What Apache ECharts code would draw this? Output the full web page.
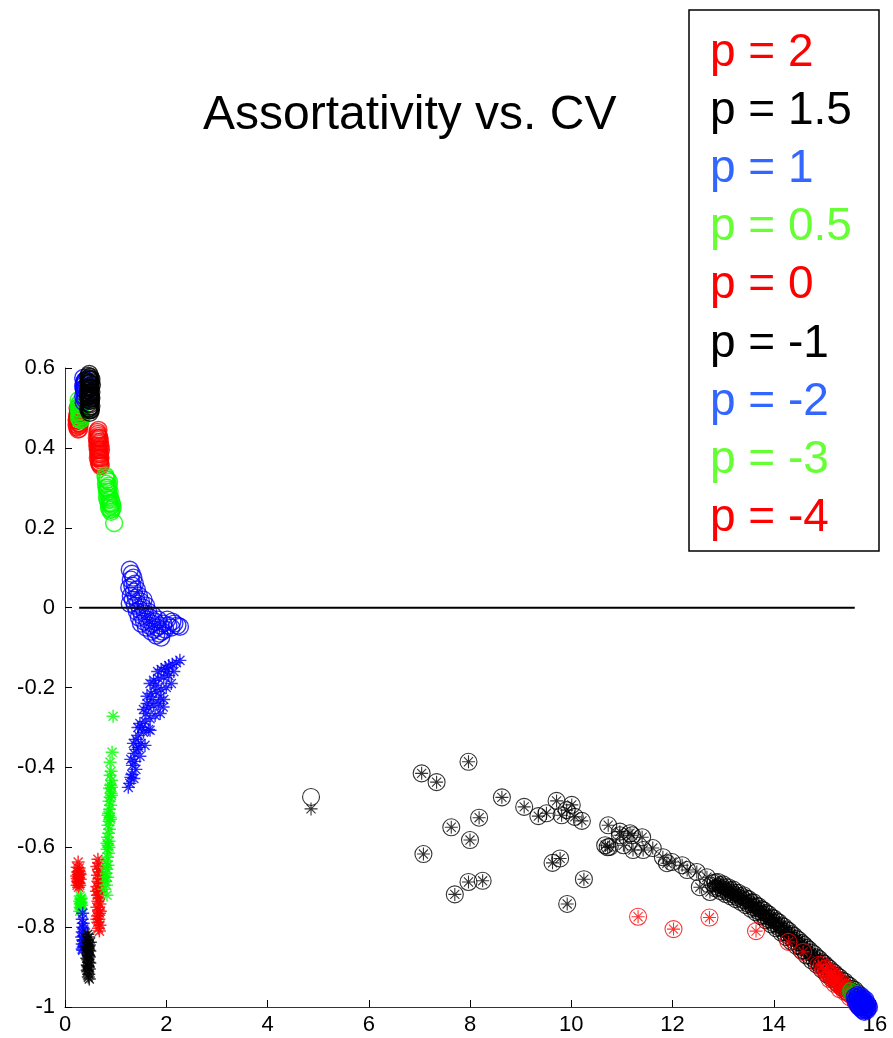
<!DOCTYPE html>
<html>
<head>
<meta charset="utf-8">
<script src="https://cdn.jsdelivr.net/npm/echarts@6/dist/echarts.min.js"></script>
<style>html,body{margin:0;padding:0;background:#fff}#c{width:893px;height:1038px}</style>
</head>
<body>
<div id="c"></div>
<script>
// ---------- data: [CV, assortativity] ----------
// left-hand groups: circles (o) and asterisks (*) read separately
const p2Circ = [
  [0.23,0.470],[0.24,0.452],[0.25,0.485],[0.26,0.462],[0.27,0.495],[0.28,0.448],[0.25,0.500],
  [0.29,0.475],[0.24,0.468],[0.27,0.455],[0.30,0.482],[0.26,0.446],[0.28,0.490],[0.23,0.458],
  [0.25,0.475],[0.27,0.468],[0.29,0.458],[0.26,0.490],[0.24,0.480],[0.28,0.462]
];
const p2Star = [
  [0.26,-0.637],[0.24,-0.650],[0.28,-0.652],[0.25,-0.662],[0.29,-0.665],[0.23,-0.672],
  [0.27,-0.675],[0.30,-0.680],[0.25,-0.685],[0.28,-0.690],[0.24,-0.695],[0.27,-0.700],
  [0.29,-0.695],[0.26,-0.668],[0.26,-0.688],[0.28,-0.660],[0.24,-0.678],[0.30,-0.668]
];
const p05Circ = [
  [0.27,0.520],[0.28,0.508],[0.29,0.497],[0.30,0.485],[0.28,0.475],[0.31,0.470],[0.29,0.512],
  [0.30,0.492],[0.32,0.480],[0.27,0.500],[0.31,0.505],[0.28,0.490],[0.30,0.472],[0.29,0.482]
];
const p05Star = [
  [0.30,-0.722],[0.32,-0.728],[0.29,-0.735],[0.31,-0.740],[0.33,-0.745],[0.30,-0.750],
  [0.32,-0.755],[0.29,-0.760],[0.31,-0.730],[0.30,-0.742],[0.32,-0.738],[0.31,-0.752]
];
const p1Circ = [
  [0.36,0.575],[0.37,0.560],[0.38,0.545],[0.36,0.530],[0.39,0.568],[0.37,0.515],[0.40,0.552],
  [0.38,0.538],[0.39,0.522],[0.41,0.570],[0.37,0.548],[0.40,0.528],[0.38,0.565],[0.36,0.555]
];
const p1Star = [
  [0.35,-0.765],[0.34,-0.780],[0.36,-0.790],[0.35,-0.800],[0.34,-0.812],[0.36,-0.822],
  [0.35,-0.832],[0.34,-0.842],[0.36,-0.850],[0.35,-0.858],[0.37,-0.805],[0.37,-0.835],
  [0.33,-0.825],[0.34,-0.855]
];
const p15Circ = [
  [0.46,0.580],[0.48,0.572],[0.50,0.578],[0.47,0.562],[0.49,0.555],[0.51,0.565],[0.46,0.545],
  [0.48,0.535],[0.50,0.525],[0.52,0.540],[0.47,0.512],[0.49,0.503],[0.51,0.495],[0.48,0.518],
  [0.50,0.548],[0.52,0.505],[0.45,0.528],[0.53,0.558],[0.47,0.575],[0.49,0.488],[0.51,0.530],
  [0.48,0.552],[0.50,0.510],[0.46,0.498],[0.49,0.570],[0.47,0.550],[0.51,0.550],[0.49,0.540],
  [0.47,0.530],[0.51,0.518],[0.49,0.522],[0.47,0.495],[0.50,0.495],[0.52,0.525],[0.48,0.500],
  [0.46,0.565],[0.50,0.562],[0.52,0.572],[0.48,0.585],[0.49,0.532]
];
const p15Star = [
  [0.45,-0.818],[0.47,-0.825],[0.44,-0.832],[0.46,-0.840],[0.48,-0.845],[0.45,-0.852],
  [0.47,-0.858],[0.44,-0.865],[0.46,-0.870],[0.48,-0.875],[0.45,-0.882],[0.47,-0.888],
  [0.44,-0.895],[0.46,-0.900],[0.48,-0.905],[0.45,-0.912],[0.47,-0.918],[0.46,-0.925],
  [0.48,-0.930],[0.43,-0.848],[0.49,-0.860],[0.43,-0.878],[0.49,-0.890],[0.44,-0.908],
  [0.50,-0.838],[0.46,-0.855],[0.47,-0.872],[0.45,-0.897]
];
const p0Circ = [
  [0.64,0.440],[0.66,0.430],[0.65,0.420],[0.67,0.410],[0.66,0.400],[0.68,0.390],[0.67,0.380],
  [0.69,0.370],[0.68,0.360],[0.70,0.375],[0.65,0.395],[0.69,0.415],[0.63,0.425],[0.71,0.395],
  [0.67,0.365],[0.64,0.405],[0.70,0.355],[0.66,0.445],[0.68,0.425],[0.64,0.415],[0.70,0.405],
  [0.66,0.385],[0.68,0.375],[0.70,0.360],[0.65,0.375],[0.69,0.385],[0.67,0.395],[0.67,0.425],
  [0.65,0.435]
];
const p0Star = [
  [0.65,-0.630],[0.67,-0.640],[0.63,-0.648],[0.66,-0.655],[0.68,-0.662],[0.64,-0.670],
  [0.67,-0.678],[0.65,-0.685],[0.69,-0.690],[0.63,-0.698],[0.66,-0.705],[0.68,-0.712],
  [0.64,-0.720],[0.67,-0.728],[0.65,-0.735],[0.69,-0.742],[0.63,-0.750],[0.66,-0.757],
  [0.68,-0.765],[0.64,-0.772],[0.67,-0.780],[0.65,-0.788],[0.69,-0.795],[0.66,-0.803],
  [0.68,-0.810],[0.70,-0.720],[0.62,-0.710],[0.70,-0.760],[0.63,-0.780]
];
const green2Circ = [
  [0.80,0.330],[0.82,0.320],[0.81,0.310],[0.84,0.300],[0.83,0.290],[0.86,0.280],[0.85,0.270],
  [0.88,0.260],[0.87,0.250],[0.90,0.255],[0.89,0.275],[0.86,0.305],[0.91,0.240],[0.97,0.212],
  [0.94,0.250],[0.92,0.262],[0.84,0.320],[0.82,0.300],[0.88,0.290],[0.90,0.270],[0.86,0.262],
  [0.92,0.245],[0.83,0.275],[0.85,0.295],[0.87,0.315],[0.89,0.245],[0.81,0.325],[0.93,0.258]
];
const green2Star = [
  [0.95,-0.272],[0.93,-0.362],[0.89,-0.387],[0.91,-0.410],[0.89,-0.420],[0.92,-0.432],
  [0.90,-0.445],[0.88,-0.452],[0.91,-0.465],[0.89,-0.475],[0.87,-0.485],[0.90,-0.495],
  [0.88,-0.505],[0.86,-0.515],[0.89,-0.525],[0.87,-0.535],[0.85,-0.545],[0.88,-0.555],
  [0.86,-0.565],[0.84,-0.575],[0.87,-0.585],[0.85,-0.595],[0.83,-0.605],[0.86,-0.615],
  [0.84,-0.625],[0.82,-0.635],[0.85,-0.645],[0.83,-0.655],[0.81,-0.665],[0.84,-0.675],
  [0.80,-0.685],[0.82,-0.695],[0.77,-0.705],[0.83,-0.720],[0.92,-0.470],[0.90,-0.530],
  [0.85,-0.520],[0.83,-0.590],[0.80,-0.650],[0.92,-0.450],[0.87,-0.600],[0.79,-0.675]
];
const blue2Circ = [
  [1.28,0.095],[1.32,0.085],[1.30,0.070],[1.35,0.075],[1.27,0.050],[1.33,0.055],[1.38,0.060],
  [1.30,0.030],[1.36,0.040],[1.42,0.045],[1.28,0.010],[1.34,0.020],[1.40,0.025],[1.46,0.030],
  [1.38,0.005],[1.44,0.010],[1.50,0.015],[1.42,-0.010],[1.48,-0.005],[1.54,0.000],[1.46,-0.025],
  [1.52,-0.020],[1.58,-0.015],[1.64,-0.010],[1.50,-0.040],[1.56,-0.035],[1.62,-0.030],[1.68,-0.025],
  [1.74,-0.020],[1.60,-0.050],[1.66,-0.045],[1.72,-0.040],[1.78,-0.035],[1.84,-0.030],[1.70,-0.060],
  [1.76,-0.055],[1.82,-0.050],[1.88,-0.045],[1.94,-0.040],[1.80,-0.070],[1.86,-0.065],[1.92,-0.060],
  [1.98,-0.055],[2.04,-0.045],[2.10,-0.050],[2.16,-0.040],[2.22,-0.045],[2.27,-0.048],[2.02,-0.030],
  [2.12,-0.035],[1.90,-0.075],[1.55,0.020],[1.60,0.005]
];
const blue2Star = [
  [2.27,-0.132],[2.20,-0.138],[2.12,-0.142],[2.05,-0.145],[1.98,-0.150],[1.90,-0.155],[1.83,-0.160],
  [2.15,-0.160],[2.05,-0.170],[1.95,-0.175],[1.85,-0.178],[1.75,-0.182],[1.68,-0.190],
  [2.10,-0.190],[2.00,-0.200],[1.90,-0.205],[1.80,-0.210],[1.70,-0.215],[1.62,-0.222],
  [1.95,-0.230],[1.85,-0.240],[1.75,-0.245],[1.65,-0.250],[1.55,-0.255],
  [1.88,-0.265],[1.78,-0.270],[1.68,-0.278],[1.58,-0.285],[1.48,-0.290],
  [1.65,-0.305],[1.55,-0.312],[1.45,-0.320],[1.40,-0.330],[1.50,-0.340],
  [1.58,-0.345],[1.42,-0.355],[1.36,-0.365],[1.48,-0.372],[1.38,-0.385],
  [1.33,-0.395],[1.40,-0.405],[1.32,-0.418],[1.36,-0.428],[1.28,-0.440],[1.25,-0.450],
  [1.88,-0.224],[1.94,-0.249],[1.68,-0.307],[1.52,-0.300],[1.60,-0.265],[1.72,-0.230],
  [1.45,-0.350],[1.30,-0.425],[2.02,-0.160],[1.78,-0.195],[1.62,-0.240],[1.44,-0.300],
  [1.35,-0.340],[1.30,-0.380]
];
// right-hand groups: [CV, assortativity (o), assortativity (*)]
const pm1Pts = [
  [4.86,-0.474,-0.504],[7.045,-0.415,-0.415],[7.34,-0.437,-0.437],[7.97,-0.386,-0.386],
  [8.63,-0.475,-0.475],[9.07,-0.499,-0.499],[8.18,-0.526,-0.526],[7.63,-0.550,-0.550],
  [8.00,-0.582,-0.582],[7.08,-0.617,-0.617],[7.97,-0.687,-0.687],[8.25,-0.684,-0.684],
  [7.70,-0.718,-0.718],[9.35,-0.522,-0.522],[9.51,-0.515,-0.515],[9.71,-0.484,-0.484],
  [10.01,-0.494,-0.494],[9.81,-0.520,-0.520],[9.91,-0.507,-0.507],[10.07,-0.524,-0.524],
  [10.21,-0.534,-0.534],[9.63,-0.639,-0.639],[9.78,-0.628,-0.628],[10.25,-0.680,-0.680],
  [9.92,-0.742,-0.742],[10.73,-0.545,-0.545],[10.96,-0.561,-0.561],[11.16,-0.565,-0.565],
  [10.67,-0.595,-0.595],[10.76,-0.599,-0.599],[11.03,-0.595,-0.595],[11.22,-0.607,-0.607],
  [10.96,-0.570,-0.570],[11.20,-0.570,-0.570],[11.40,-0.575,-0.575],[11.42,-0.607,-0.607],
  [11.61,-0.602,-0.602],[11.81,-0.625,-0.625],[11.89,-0.640,-0.640],[11.99,-0.637,-0.637],
  [12.19,-0.645,-0.645],[12.29,-0.657,-0.657],[12.48,-0.662,-0.662],[12.68,-0.675,-0.675],
  [12.80,-0.690,-0.690],[12.54,-0.700,-0.700],[12.74,-0.712,-0.712],[10.72,-0.600,-0.600],
  [12.85,-0.688,-0.688],[12.90,-0.700,-0.700],[12.95,-0.695,-0.695],[13.00,-0.705,-0.705],
  [13.05,-0.700,-0.700],[13.10,-0.712,-0.712],[13.15,-0.708,-0.708],[13.20,-0.718,-0.718],
  [13.25,-0.714,-0.714],[13.30,-0.726,-0.726],[13.35,-0.722,-0.722],[13.40,-0.732,-0.732],
  [13.45,-0.728,-0.728],[13.50,-0.742,-0.742],[13.55,-0.738,-0.738],[13.60,-0.750,-0.750],
  [13.65,-0.746,-0.746],[13.70,-0.760,-0.760],[13.75,-0.755,-0.755],[13.80,-0.770,-0.770],
  [13.85,-0.765,-0.765],[13.90,-0.780,-0.780],[13.95,-0.776,-0.776],[14.00,-0.790,-0.790],
  [14.05,-0.785,-0.785],[14.10,-0.800,-0.800],[14.15,-0.796,-0.796],[14.20,-0.812,-0.812],
  [14.25,-0.806,-0.806],[14.30,-0.822,-0.822],[14.35,-0.818,-0.818],[14.40,-0.834,-0.834],
  [14.45,-0.829,-0.829],[14.50,-0.846,-0.846],[14.55,-0.840,-0.840],[14.60,-0.858,-0.858],
  [14.65,-0.852,-0.852],[14.70,-0.870,-0.870],[14.75,-0.864,-0.864],[14.80,-0.880,-0.880],
  [14.85,-0.876,-0.876],[14.90,-0.892,-0.892],[14.95,-0.888,-0.888],[15.00,-0.904,-0.904],
  [15.05,-0.899,-0.899],[15.10,-0.916,-0.916],[15.15,-0.911,-0.911],[15.20,-0.928,-0.928],
  [15.25,-0.922,-0.922],[15.30,-0.938,-0.938],[15.35,-0.934,-0.934],[15.40,-0.948,-0.948],
  [15.45,-0.944,-0.944],[15.50,-0.958,-0.958],[15.55,-0.955,-0.955],[15.60,-0.968,-0.968],
  [15.65,-0.965,-0.965],[15.70,-0.978,-0.978],[15.75,-0.985,-0.985],[15.80,-0.992,-0.992],
  [12.90,-0.687,-0.687],[13.00,-0.693,-0.693],[13.10,-0.700,-0.700],[13.20,-0.706,-0.706],
  [13.30,-0.714,-0.714],[13.40,-0.720,-0.720],[13.50,-0.730,-0.730],[13.60,-0.738,-0.738],
  [13.70,-0.748,-0.748],[13.80,-0.758,-0.758],[13.90,-0.768,-0.768],[14.00,-0.778,-0.778],
  [14.10,-0.788,-0.788],[14.20,-0.799,-0.799],[14.30,-0.810,-0.810],[14.40,-0.822,-0.822],
  [14.50,-0.833,-0.833],[14.60,-0.845,-0.845],[14.70,-0.857,-0.857],[14.80,-0.868,-0.868],
  [14.90,-0.880,-0.880],[15.00,-0.892,-0.892],[15.10,-0.904,-0.904],[15.20,-0.915,-0.915],
  [15.30,-0.926,-0.926],[15.40,-0.936,-0.936],[15.50,-0.947,-0.947],[15.60,-0.957,-0.957],
  [12.85,-0.703,-0.703],[12.95,-0.710,-0.710],[13.05,-0.717,-0.717],[13.15,-0.723,-0.723],
  [13.25,-0.730,-0.730],[13.35,-0.737,-0.737],[13.45,-0.745,-0.745],[13.55,-0.754,-0.754],
  [13.65,-0.763,-0.763],[13.75,-0.773,-0.773],[13.85,-0.783,-0.783],[13.95,-0.793,-0.793],
  [14.05,-0.803,-0.803],[14.15,-0.814,-0.814],[14.25,-0.825,-0.825],[14.35,-0.836,-0.836],
  [14.45,-0.847,-0.847],[14.55,-0.859,-0.859],[14.65,-0.871,-0.871],[14.75,-0.883,-0.883],
  [14.85,-0.894,-0.894],[14.95,-0.906,-0.906],[15.05,-0.918,-0.918],[15.15,-0.929,-0.929],
  [15.25,-0.940,-0.940],[15.35,-0.951,-0.951],[15.45,-0.962,-0.962]
];
const pm4Pts = [
  [11.32,-0.774,-0.774],[12.02,-0.805,-0.805],[12.73,-0.776,-0.776],[13.65,-0.810,-0.810],
  [14.29,-0.837,-0.837],[14.58,-0.862,-0.862],[14.88,-0.895,-0.895],[14.98,-0.905,-0.905],
  [15.05,-0.915,-0.915],[15.12,-0.922,-0.922],[15.18,-0.930,-0.930],[15.24,-0.938,-0.938],
  [15.30,-0.945,-0.945],[15.36,-0.952,-0.952],[15.42,-0.960,-0.960],[15.48,-0.966,-0.966],
  [15.54,-0.972,-0.972],[15.60,-0.978,-0.978],[15.66,-0.985,-0.985],[15.72,-0.990,-0.990],
  [15.78,-0.995,-0.995],[15.10,-0.930,-0.930],[15.20,-0.942,-0.942],[15.30,-0.955,-0.955],
  [15.40,-0.962,-0.962],[15.50,-0.975,-0.975],[15.15,-0.915,-0.915],[15.35,-0.940,-0.940],
  [14.95,-0.895,-0.895],[15.02,-0.905,-0.905],[15.08,-0.912,-0.912],[15.14,-0.920,-0.920],
  [15.22,-0.928,-0.928],[15.28,-0.935,-0.935],[15.34,-0.945,-0.945],[15.44,-0.955,-0.955],
  [15.52,-0.962,-0.962],[15.58,-0.970,-0.970],[15.64,-0.976,-0.976],[15.70,-0.982,-0.982],
  [15.76,-0.988,-0.988],[15.82,-0.996,-0.996],[15.62,-0.990,-0.990],[15.68,-0.998,-0.998]
];
const pm3Pts = [
  [15.52,-0.962,-0.962],[15.55,-0.965,-0.965],[15.58,-0.968,-0.968],[15.54,-0.958,-0.958]
];
const pm2Pts = [
  [15.60,-0.975,-0.975],[15.63,-0.978,-0.978],[15.66,-0.982,-0.982],[15.69,-0.985,-0.985],
  [15.72,-0.988,-0.988],[15.75,-0.991,-0.991],[15.78,-0.994,-0.994],[15.80,-0.997,-0.997],
  [15.83,-1.000,-1.000],[15.85,-1.003,-1.003],[15.65,-0.990,-0.990],[15.70,-0.995,-0.995],
  [15.75,-1.000,-1.000],[15.80,-1.005,-1.005],[15.68,-0.975,-0.975],[15.73,-0.980,-0.980],
  [15.78,-0.985,-0.985],[15.83,-0.990,-0.990],[15.77,-1.008,-1.008],[15.72,-1.002,-1.002],
  [15.62,-0.985,-0.985],[15.67,-0.995,-0.995],[15.72,-0.972,-0.972],[15.76,-0.978,-0.978],
  [15.81,-0.982,-0.982],[15.86,-0.995,-0.995],[15.84,-1.008,-1.008],[15.79,-1.012,-1.012],
  [15.74,-1.006,-1.006],[15.69,-1.000,-1.000],[15.66,-0.970,-0.970],[15.88,-1.000,-1.000]
];

const zeroLineX = [0.28, 15.6];
const xTicks = [0, 2, 4, 6, 8, 10, 12, 14, 16];
const yTicks = [-1, -0.8, -0.6, -0.4, -0.2, 0, 0.2, 0.4, 0.6];

const legendLabels = ['p = 2','p = 1.5','p = 1','p = 0.5','p = 0','p = -1','p = -2','p = -3','p = -4'];
const legendColors = ['#ff0000','#000000','#3366ff','#66ff33','#ff0000','#000000','#3366ff','#66ff33','#ff0000'];
const titleText = 'Assortativity vs. CV';

// ---------- build series (drawing order: later on top) ----------
function col(pts, k) { return pts.map(function (d) { return [d[0], d[k]]; }); }
const groups = [
  {circ: p2Circ, star: p2Star, color: '#ff0000', lw: 1.5},
  {circ: p05Circ, star: p05Star, color: '#00ff00', lw: 1.5},
  {circ: p1Circ, star: p1Star, color: '#0000ff', lw: 1.5},
  {circ: p15Circ, star: p15Star, color: '#000000', lw: 1.5},
  {circ: p0Circ, star: p0Star, color: '#ff0000', lw: 1.5},
  {circ: green2Circ, star: green2Star, color: '#00ff00', lw: 1.5},
  {circ: blue2Circ, star: blue2Star, color: '#0000ff', lw: 1.4},
  {circ: col(pm1Pts, 1), star: col(pm1Pts, 2), color: '#000000', lw: 1.1},
  {circ: col(pm4Pts, 1), star: col(pm4Pts, 2), color: '#ff0000', lw: 1.1},
  {circ: col(pm3Pts, 1), star: col(pm3Pts, 2), color: '#00bb00', lw: 1.1},
  {circ: col(pm2Pts, 1), star: col(pm2Pts, 2), color: '#0000ff', lw: 1.5}
];

const starPath = 'path://M10 0 L10 20 M0 10 L20 10 M3 3 L17 17 M3 17 L17 3';
const series = [];
groups.forEach(function (g) {
  series.push({
    type: 'scatter', symbol: 'circle', symbolSize: 17, clip: false, silent: true,
    itemStyle: {color: 'rgba(0,0,0,0)', borderColor: g.color, borderWidth: g.lw},
    data: g.circ
  });
  series.push({
    type: 'scatter', symbol: starPath, symbolSize: 13, clip: false, silent: true,
    itemStyle: {color: 'rgba(0,0,0,0)', borderColor: g.color, borderWidth: g.lw},
    data: g.star
  });
});
series.push({
  type: 'line', symbol: 'none', silent: true,
  lineStyle: {color: '#000', width: 2},
  data: zeroLineX.map(function (x) { return [x, 0]; })
});

// ---------- legend box, title ----------
const graphics = [{
  type: 'rect', shape: {x: 689, y: 10, width: 190, height: 541},
  style: {fill: '#fff', stroke: '#000', lineWidth: 1.5}, z: 10
}];
legendLabels.forEach(function (t, i) {
  graphics.push({
    type: 'text', x: 710, y: 53 + i * 58.2, z: 11,
    style: {text: t, fill: legendColors[i], font: '46px "Liberation Sans", Arial, sans-serif',
            align: 'left', verticalAlign: 'middle'}
  });
});
graphics.push({
  type: 'text', x: 203, y: 116, z: 11,
  style: {text: titleText, fill: '#000', font: '48px "Liberation Sans", Arial, sans-serif',
          align: 'left', verticalAlign: 'middle'}
});

const axisCommon = {
  type: 'value',
  axisLine: {show: true, onZero: false, lineStyle: {color: '#333', width: 1}},
  axisTick: {show: true, inside: true, length: 7, lineStyle: {color: '#000', width: 1}},
  splitLine: {show: false},
  axisLabel: {color: '#000', fontSize: 22, fontFamily: '"Liberation Sans", Arial, sans-serif'}
};

const chart = echarts.init(document.getElementById('c'), null, {renderer: 'canvas'});
chart.setOption({
  animation: false,
  backgroundColor: '#fff',
  grid: {left: 65, right: 18, top: 368, bottom: 31, containLabel: false},
  xAxis: Object.assign({}, axisCommon, {
    min: xTicks[0], max: xTicks[xTicks.length - 1], interval: xTicks[1] - xTicks[0],
    axisLabel: Object.assign({}, axisCommon.axisLabel, {margin: 7})
  }),
  yAxis: Object.assign({}, axisCommon, {
    min: yTicks[0], max: yTicks[yTicks.length - 1], interval: 0.2,
    axisLabel: Object.assign({}, axisCommon.axisLabel, {margin: 10,
      formatter: function (v) { return String(Math.round(v * 10) / 10); }})
  }),
  graphic: graphics,
  series: series
});
</script>
</body>
</html>
